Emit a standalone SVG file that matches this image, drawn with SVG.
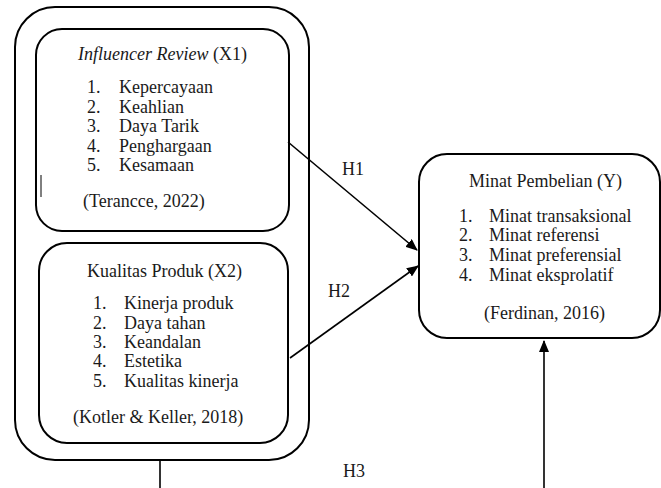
<svg xmlns="http://www.w3.org/2000/svg" width="661" height="488" viewBox="0 0 661 488">
<style>
.box{fill:none;stroke:#000;stroke-width:2}
.ln{fill:none;stroke:#000;stroke-width:1.6}
text{font-family:"Liberation Serif","Times New Roman",serif;font-size:18px;fill:#1a1a1a}
.it{font-style:italic}
</style>
<defs>
<marker id="ah" markerUnits="userSpaceOnUse" markerWidth="12" markerHeight="10" refX="11" refY="5" orient="auto">
<path d="M0,0 L12,5 L0,10 Z" fill="#000"/>
</marker>
</defs>
<rect width="661" height="488" fill="#fff"/>
<g id="outer">
<rect class="box" x="15" y="7" width="294" height="453" rx="40" ry="40"/>
</g>
<g id="x1">
<rect class="box" x="36" y="29" width="253" height="202" rx="26" ry="26"/>
<text x="78" y="60"><tspan class="it">Influencer Review</tspan> (X1)</text>
<text x="87" y="93">1.</text><text x="119" y="93">Kepercayaan</text>
<text x="87" y="112.5">2.</text><text x="119" y="112.5">Keahlian</text>
<text x="87" y="132">3.</text><text x="119" y="132">Daya Tarik</text>
<text x="87" y="151.5">4.</text><text x="119" y="151.5">Penghargaan</text>
<text x="87" y="171">5.</text><text x="119" y="171">Kesamaan</text>
<text x="83" y="207">(Terancce, 2022)</text>
<line x1="41" y1="175" x2="41" y2="197" stroke="#000" stroke-width="1"/>
</g>
<g id="x2">
<rect class="box" x="39" y="243" width="249" height="200" rx="28" ry="28"/>
<text x="87" y="277">Kualitas Produk (X2)</text>
<text x="93" y="309">1.</text><text x="124" y="309">Kinerja produk</text>
<text x="93" y="328.5">2.</text><text x="124" y="328.5">Daya tahan</text>
<text x="93" y="348">3.</text><text x="124" y="348">Keandalan</text>
<text x="93" y="367">4.</text><text x="124" y="367">Estetika</text>
<text x="93" y="386.5">5.</text><text x="124" y="386.5">Kualitas kinerja</text>
<text x="73" y="423">(Kotler &amp; Keller, 2018)</text>
</g>
<g id="y">
<rect class="box" x="419" y="154" width="241" height="184" rx="28" ry="28"/>
<text x="469" y="187">Minat Pembelian (Y)</text>
<text x="459" y="221.5">1.</text><text x="489" y="221.5">Minat transaksional</text>
<text x="459" y="241">2.</text><text x="489" y="241">Minat referensi</text>
<text x="459" y="261">3.</text><text x="489" y="261">Minat preferensial</text>
<text x="459" y="281">4.</text><text x="489" y="281">Minat eksprolatif</text>
<text x="484" y="318.5">(Ferdinan, 2016)</text>
</g>
<g id="connectors">
<line class="ln" x1="288" y1="142" x2="417" y2="250" marker-end="url(#ah)"/>
<line class="ln" x1="290" y1="358" x2="418" y2="266" marker-end="url(#ah)"/>
<line class="ln" x1="160" y1="460" x2="160" y2="488"/>
<line class="ln" x1="544" y1="488" x2="544" y2="341" marker-end="url(#ah)"/>
<text x="342" y="175">H1</text>
<text x="328" y="297">H2</text>
<text x="343" y="477">H3</text>
</g>
</svg>
